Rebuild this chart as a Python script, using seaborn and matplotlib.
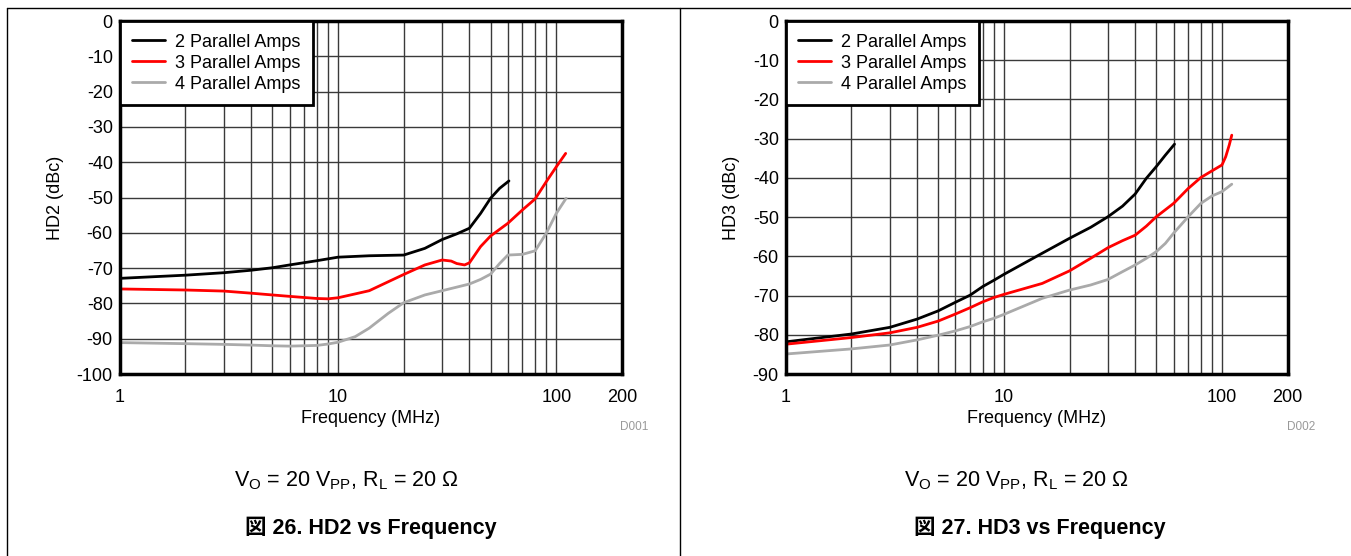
import matplotlib
matplotlib.use("Agg")
import matplotlib.pyplot as plt
import seaborn as sns
from matplotlib.lines import Line2D
from matplotlib.ticker import FixedLocator, NullFormatter

# HD2 data (left chart)
hd2_freq_2 = [1, 2, 3, 4, 5, 6, 8, 10, 13.9, 20, 25, 30, 35, 40, 45, 50, 55, 60.7]
hd2_val_2 = [-72.9, -72.0, -71.3, -70.6, -69.9, -69.1, -67.9, -66.9, -66.5, -66.3, -64.4, -61.9,
             -60.3, -58.7, -54.5, -50.2, -47.4, -45.3]
hd2_freq_3 = [1, 2, 3, 4, 5, 6, 8, 9, 10, 12, 13.9, 20, 25, 30, 33, 35, 38, 40, 45, 50, 60, 70,
              80, 90, 100, 110.4]
hd2_val_3 = [-75.9, -76.2, -76.5, -77.1, -77.6, -78.0, -78.6, -78.7, -78.4, -77.3, -76.4, -71.8,
             -69.1, -67.7, -68.0, -68.7, -69.1, -68.5, -63.9, -60.9, -57.3, -53.5, -50.4, -45.5,
             -41.3, -37.5]
hd2_freq_4 = [1, 2, 3, 4, 5, 6, 8, 9, 10, 12, 13.9, 17, 20, 25, 30, 40, 45, 50, 55, 60, 70, 80,
              90, 100, 111]
hd2_val_4 = [-91.1, -91.4, -91.6, -91.8, -92.0, -92.1, -91.9, -91.5, -91.0, -89.4, -87.0, -82.8,
             -79.8, -77.6, -76.4, -74.5, -73.2, -71.7, -68.7, -66.3, -66.1, -65.1, -60.1, -54.5,
             -50.2]

# HD3 data (right chart)
hd3_freq_2 = [1, 2, 3, 4, 5, 6, 7, 8, 9, 10, 15, 20, 25, 30, 35, 40, 45, 50, 55, 60.6]
hd3_val_2 = [-81.8, -79.8, -78.1, -76.0, -73.9, -71.7, -69.9, -67.7, -66.1, -64.6, -59.2, -55.4,
             -52.6, -49.9, -47.2, -44.1, -40.1, -37.1, -34.2, -31.4]
hd3_freq_3 = [1, 2, 3, 4, 5, 6, 7, 8, 9, 10, 15, 20, 25, 30, 35, 40, 45, 50, 60, 70, 80, 90,
              100, 104, 108, 110.9]
hd3_val_3 = [-82.4, -80.7, -79.5, -78.1, -76.5, -74.7, -73.1, -71.6, -70.5, -69.7, -66.9, -63.7,
             -60.5, -57.8, -56.0, -54.6, -52.3, -49.9, -46.5, -42.7, -39.9, -38.2, -36.7, -34.6,
             -31.6, -29.1]
hd3_freq_4 = [1, 2, 3, 4, 5, 6, 7, 8, 9, 10, 15, 20, 25, 30, 35, 40, 45, 50, 55, 60, 70, 80, 90,
              100, 110.9]
hd3_val_4 = [-84.9, -83.6, -82.6, -81.3, -80.1, -79.0, -77.9, -76.7, -75.8, -74.8, -70.7, -68.6,
             -67.3, -65.9, -63.9, -62.2, -60.5, -58.8, -56.7, -54.1, -49.9, -46.5, -44.6, -43.5,
             -41.6]

labels = ["2 Parallel Amps", "3 Parallel Amps", "4 Parallel Amps"]
colors = ["#000000", "#ff0000", "#aaaaaa"]
x_ticks = [1, 10, 100, 200]
x_ticklabels = ["1", "10", "100", "200"]

sns.set_style("white")
plt.rcParams["font.family"] = ["Liberation Sans", "Noto Sans CJK JP", "DejaVu Sans"]
plt.rcParams["axes.unicode_minus"] = False
plt.rcParams["text.color"] = "black"
plt.rcParams["axes.labelcolor"] = "black"
plt.rcParams["xtick.color"] = "black"
plt.rcParams["ytick.color"] = "black"
plt.rcParams["mathtext.fontset"] = "custom"
plt.rcParams["mathtext.rm"] = "Liberation Sans"
plt.rcParams["mathtext.it"] = "Liberation Sans"

fig = plt.figure(figsize=(13.51, 5.56), dpi=100)
ax1 = fig.add_axes([0.0886, 0.3273, 0.3718, 0.6349])
ax2 = fig.add_axes([0.5816, 0.3273, 0.3715, 0.6349])

FS = 13


def draw_panel(ax, series, ylim, ylabel, code, code_x):
    for (fx, fy), lab, col in zip(series, labels, colors):
        sns.lineplot(x=fx, y=fy, ax=ax, color=col, label=lab, linewidth=2)
    ax.set_xscale("log")
    ax.set_xlim(1, 200)
    ax.set_ylim(*ylim)
    minors = [m * d for d in (1, 10) for m in range(2, 10)] + [100]
    ax.xaxis.set_major_locator(FixedLocator(x_ticks))
    ax.set_xticklabels(x_ticklabels)
    ax.xaxis.set_minor_locator(FixedLocator(minors))
    ax.xaxis.set_minor_formatter(NullFormatter())
    ax.set_yticks(range(ylim[0], ylim[1] + 1, 10))
    ax.grid(True, which="both", color="#3a3a3a", linewidth=1.0)
    ax.tick_params(which="both", length=0, labelsize=FS)
    ax.tick_params(axis="x", pad=11)
    ax.tick_params(axis="y", pad=5)
    for s in ax.spines.values():
        s.set_visible(True)
        s.set_color("black")
        s.set_linewidth(2.5)
    ax.set_xlabel("Frequency (MHz)", fontsize=FS, labelpad=3)
    ax.set_ylabel(ylabel, fontsize=FS, labelpad=9)
    leg = ax.legend(loc="upper left", borderaxespad=0, fontsize=FS, fancybox=False,
                    framealpha=1, edgecolor="black", handlelength=1.8, labelspacing=0.22,
                    borderpad=0.7, handletextpad=0.55)
    leg.get_frame().set_linewidth(2)
    ax.text(code_x, -0.15, code, transform=ax.transAxes, fontsize=8.5, color="#999999",
            ha="right", va="center")


draw_panel(ax1, [(hd2_freq_2, hd2_val_2), (hd2_freq_3, hd2_val_3), (hd2_freq_4, hd2_val_4)],
           (-100, 0), "HD2 (dBc)", "D001", 1.052)
draw_panel(ax2, [(hd3_freq_2, hd3_val_2), (hd3_freq_3, hd3_val_3), (hd3_freq_4, hd3_val_4)],
           (-90, 0), "HD3 (dBc)", "D002", 1.055)

cond = r"V$_\mathregular{O}$ = 20 V$_\mathregular{PP}$, R$_\mathregular{L}$ = 20 Ω"
fig.text(346 / 1351, 1 - 481 / 556, cond, ha="center", va="center", fontsize=15.5)
fig.text(1016 / 1351, 1 - 481 / 556, cond, ha="center", va="center", fontsize=15.5)
fig.text(371 / 1351, 1 - 528 / 556, "図 26. HD2 vs Frequency", ha="center", va="center",
         fontsize=15.5, fontweight="bold")
fig.text(1040 / 1351, 1 - 528 / 556, "図 27. HD3 vs Frequency", ha="center", va="center",
         fontsize=15.5, fontweight="bold")

# panel frame lines
fig.add_artist(Line2D([7 / 1351, 1], [1 - 8 / 556, 1 - 8 / 556], color="black", linewidth=1))
fig.add_artist(Line2D([7 / 1351, 7 / 1351], [0, 1 - 8 / 556], color="black", linewidth=1))
fig.add_artist(Line2D([680 / 1351, 680 / 1351], [0, 1 - 8 / 556], color="black", linewidth=1))

fig.savefig("out.png", dpi=100)
